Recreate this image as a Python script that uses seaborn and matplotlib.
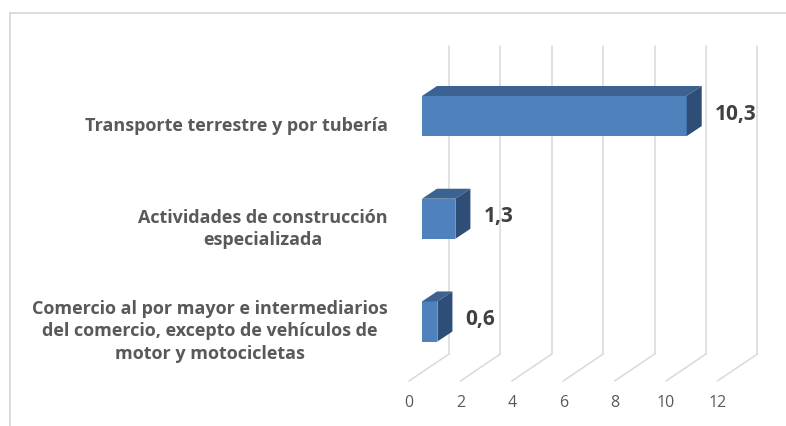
import numpy as np
import pandas as pd
import matplotlib
matplotlib.use("Agg")
import matplotlib.pyplot as plt
import matplotlib.transforms as mtransforms
from matplotlib.patches import Polygon
from matplotlib.lines import Line2D
import seaborn as sns

# ─── Data ─────────────────────────────────────────────────────────────────────
categories = [
    "Transporte terrestre y por tubería",
    "Actividades de construcción\nespecializada",
    "Comercio al por mayor e intermediarios\ndel comercio, excepto de vehículos de\nmotor y motocicletas",
]
values = [10.3, 1.3, 0.6]
value_labels = ["10,3", "1,3", "0,6"]
x_ticks = [0, 2, 4, 6, 8, 10, 12]

# ─── Style ────────────────────────────────────────────────────────────────────
W, H, DPI = 786, 427, 100
FRONT, TOP, SIDE = "#4f81bd", "#3c6291", "#2f4e77"
GRID = "#d9d9d9"
TEXT = "#595959"
VALUE = "#404040"
DEPTH = (15, 10)          # bar depth in px (right, up)

sns.set_theme(style="white")
plt.rcParams["font.family"] = ["Open Sans", "DejaVu Sans"]

fig = plt.figure(figsize=(W / DPI, H / DPI), dpi=DPI)
ax = fig.add_axes([422 / W, 1 - 373.85 / H, 308.4 / W, 308.2 / H])

df = pd.DataFrame({"cat": categories, "val": values})
sns.barplot(data=df, x="val", y="cat", orient="h", color=FRONT,
            saturation=1, width=0.39, ax=ax, zorder=3, linewidth=0)

ax.set_xlim(0, 12)
ax.set_ylim(2.5, -0.5)
ax.set_xticks([])
ax.set_yticks([])
ax.set_xlabel("")
ax.set_ylabel("")
for s in ax.spines.values():
    s.set_visible(False)
ax.patch.set_alpha(0)

ident = mtransforms.IdentityTransform()


def disp(x, y):
    return ax.transData.transform((x, y))


# back wall + floor gridlines (3D perspective), kept behind the axes/bars
for v in x_ticks:
    xd = disp(v, 0)[0]
    fig.add_artist(Line2D([xd + 27, xd + 27], [H - 47, H - 355], transform=ident,
                          color=GRID, lw=1.1, zorder=-1))
    fig.add_artist(Line2D([xd + 27, xd - 13], [H - 355, H - 382], transform=ident,
                          color=GRID, lw=1.1, zorder=-1))
    fig.text(xd - 13, H - 403, str(v), transform=ident, ha="center", va="center",
             fontsize=11.5, color=TEXT)

# 3D faces of the bars
dx, dy = DEPTH
for p, lab in zip(ax.patches, value_labels):
    (L, T) = disp(p.get_x(), p.get_y())
    (R, B) = disp(p.get_x() + p.get_width(), p.get_y() + p.get_height())
    top = Polygon([(L, T), (R, T), (R + dx, T + dy), (L + dx, T + dy)],
                  closed=True, transform=ident, facecolor=TOP, edgecolor="none", zorder=4)
    side = Polygon([(R, T), (R + dx, T + dy), (R + dx, B + dy), (R, B)],
                   closed=True, transform=ident, facecolor=SIDE, edgecolor="none", zorder=4)
    fig.add_artist(top)
    fig.add_artist(side)
    fig.text(R + 28, (T + B) / 2 + 3, lab, transform=ident, ha="left", va="center",
             fontsize=15, fontweight="bold", color=VALUE, zorder=5)

# category labels
for i, cat in enumerate(categories):
    yd = disp(0, i)[1]
    fig.text(388, yd - 9, cat, transform=ident, ha="right", va="center",
             multialignment="center", linespacing=1.3,
             fontsize=13, fontweight="bold", color=TEXT)

# chart border (left / top)
fig.add_artist(Line2D([10 / W, 10 / W], [0, 1 - 14 / H], color=GRID, lw=1.3))
fig.add_artist(Line2D([10 / W, 1], [1 - 14 / H, 1 - 14 / H], color=GRID, lw=1.3))

fig.savefig("out.png", dpi=DPI)
plt.close(fig)
